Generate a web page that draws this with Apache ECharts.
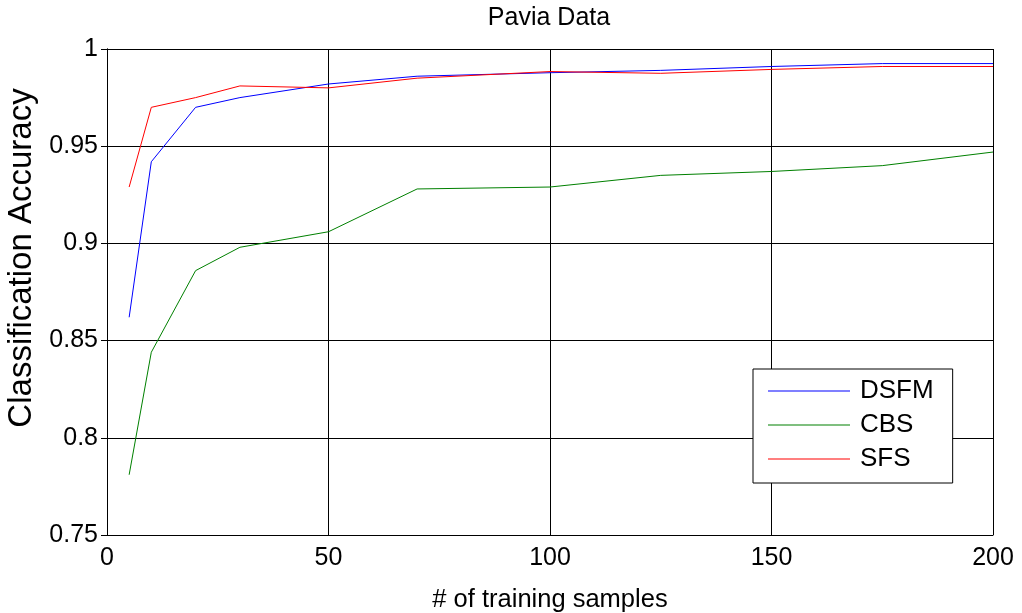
<!DOCTYPE html>
<html>
<head>
<meta charset="utf-8">
<script src="https://cdn.jsdelivr.net/npm/echarts@6/dist/echarts.min.js"></script>
<style>
html,body{margin:0;padding:0;background:#fff;}
#chart{width:1022px;height:613px;}
</style>
</head>
<body>
<div id="chart"></div>
<script>
var samples = [5, 10, 20, 30, 50, 70, 100, 125, 150, 175, 200];
var dsfm = [0.862, 0.942, 0.970, 0.975, 0.982, 0.986, 0.9878, 0.989, 0.991, 0.9925, 0.9925];
var cbs  = [0.781, 0.844, 0.886, 0.898, 0.906, 0.928, 0.929, 0.935, 0.937, 0.940, 0.947];
var sfs  = [0.929, 0.970, 0.975, 0.981, 0.980, 0.985, 0.9884, 0.9875, 0.9895, 0.991, 0.991];
var seriesNames = ['DSFM', 'CBS', 'SFS'];
var seriesColors = ['#0000ff', '#008000', '#ff0000'];
var xTicks = [0, 50, 100, 150, 200];
var yTicks = [0.75, 0.8, 0.85, 0.9, 0.95, 1];

function pairs(xs, ys) { return xs.map(function (x, i) { return [x, ys[i]]; }); }

var FONT = 'Liberation Sans, Arial, sans-serif';
var chart = echarts.init(document.getElementById('chart'), null, {renderer: 'canvas'});
var lineBlack = {show: true, lineStyle: {color: '#000', width: 1}};
var option = {
  backgroundColor: '#fff',
  animation: false,
  title: {
    text: 'Pavia Data',
    left: 549, top: 6, padding: 0, textAlign: 'center',
    textStyle: {fontFamily: FONT, fontSize: 25, fontWeight: 'normal', color: '#000'}
  },
  grid: {left: 107, right: 29, top: 49, bottom: 78, containLabel: false, outerBoundsMode: 'none'},
  legend: {
    orient: 'vertical',
    left: 753, top: 369,
    padding: [9, 19, 11, 15],
    itemGap: 8,
    itemWidth: 82, itemHeight: 1,
    icon: 'path://M0,0 L100,0 L100,1 L0,1 Z',
    backgroundColor: '#fff',
    borderColor: '#000', borderWidth: 1,
    data: seriesNames,
    textStyle: {fontFamily: FONT, fontSize: 26, color: '#000', padding: [0, 0, 0, 5]}
  },
  xAxis: [{
    type: 'value', min: xTicks[0], max: xTicks[xTicks.length - 1], interval: 50,
    name: '# of training samples', nameLocation: 'middle', nameGap: 52,
    nameTextStyle: {fontFamily: FONT, fontSize: 25.5, color: '#000'},
    axisLine: lineBlack,
    axisTick: {show: true, inside: true, length: 6, lineStyle: {color: '#000'}},
    axisLabel: {fontFamily: FONT, fontSize: 25, color: '#000', margin: 11},
    splitLine: {show: true, lineStyle: {color: '#000', width: 1}}
  }, {
    type: 'value', position: 'top', min: 0, max: 200, interval: 50,
    axisLine: lineBlack,
    axisTick: {show: true, inside: true, length: 6, lineStyle: {color: '#000'}},
    axisLabel: {show: false}, splitLine: {show: false}
  }],
  yAxis: [{
    type: 'value', min: yTicks[0], max: yTicks[yTicks.length - 1], interval: 0.05,
    name: 'Classification Accuracy', nameLocation: 'middle', nameGap: 68,
    nameTextStyle: {fontFamily: FONT, fontSize: 33, color: '#000', padding: [0, 0, 0, 68]},
    axisLine: lineBlack,
    axisTick: {show: true, inside: true, length: 6, lineStyle: {color: '#000'}},
    axisLabel: {fontFamily: FONT, fontSize: 25, color: '#000', margin: 9},
    splitLine: {show: true, lineStyle: {color: '#000', width: 1}}
  }, {
    type: 'value', position: 'right', min: 0.75, max: 1, interval: 0.05,
    axisLine: lineBlack,
    axisTick: {show: true, inside: true, length: 6, lineStyle: {color: '#000'}},
    axisLabel: {show: false}, splitLine: {show: false}
  }],
  series: [
    {name: seriesNames[0], type: 'line', data: pairs(samples, dsfm)},
    {name: seriesNames[1], type: 'line', data: pairs(samples, cbs)},
    {name: seriesNames[2], type: 'line', data: pairs(samples, sfs)}
  ].map(function (s, i) {
    s.symbol = 'none';
    s.showSymbol = false;
    s.color = seriesColors[i];
    s.lineStyle = {color: seriesColors[i], width: 1};
    s.z = 1;
    return s;
  })
};
chart.setOption(option);
</script>
</body>
</html>
